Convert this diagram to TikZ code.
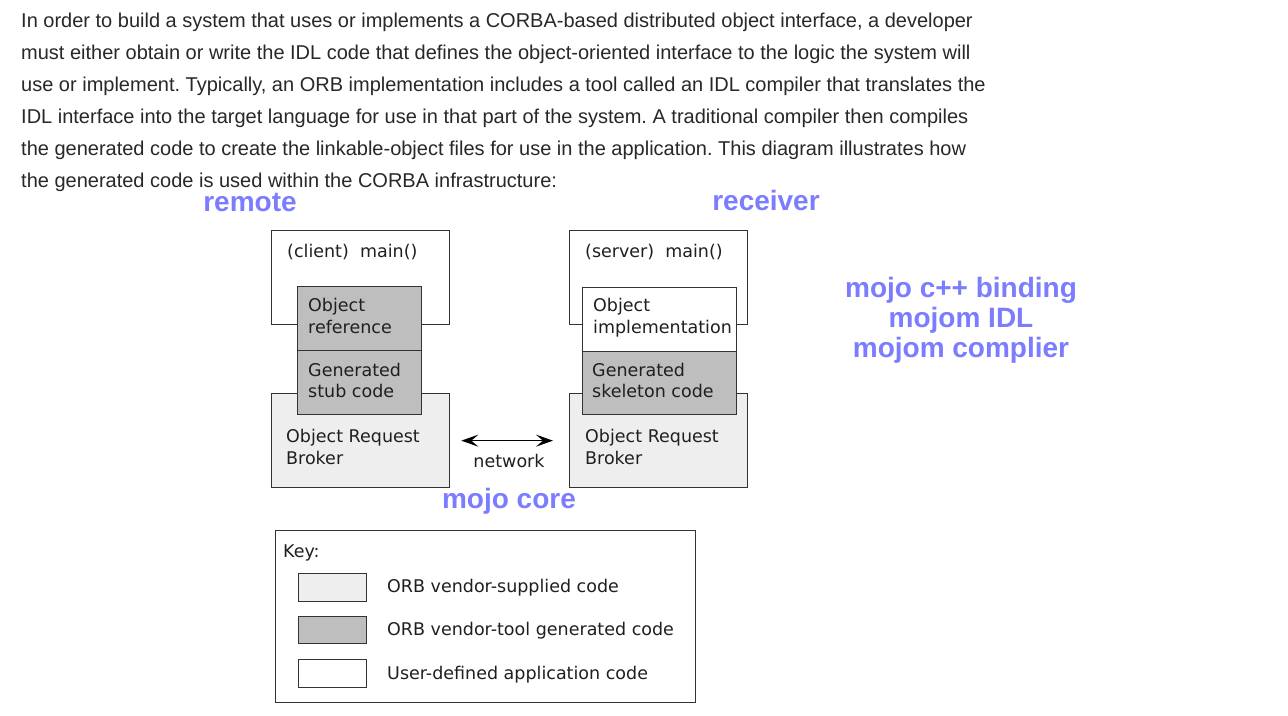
\documentclass[tikz,border=0pt]{standalone}
\usepackage{fontspec}
\setmainfont{Liberation Sans}
\newfontfamily\dv{DejaVu Sans}
\usetikzlibrary{arrows.meta}
\definecolor{txt}{RGB}{40,40,40}
\definecolor{annot}{RGB}{124,124,255}
\definecolor{lightfill}{RGB}{238,238,238}
\definecolor{midfill}{RGB}{190,190,190}
\definecolor{edge}{RGB}{51,51,51}
\frenchspacing
\begin{document}
\begin{tikzpicture}[x=1pt,y=-1pt,
 para/.style={anchor=base west, inner sep=0pt, font=\fontsize{20}{20}\selectfont, text=txt},
 lbl/.style={anchor=base west, inner sep=0pt, font=\dv\fontsize{17.5}{22}\selectfont, text=black!88},
 box/.style={draw=edge, line width=1.3pt, anchor=north west, inner sep=0pt},
 ann/.style={inner sep=0pt, font=\bfseries\fontsize{28}{30}\selectfont, text=annot, align=center},
 arr/.style={{Stealth[length=17pt,width=12pt,inset=7pt]}-{Stealth[length=17pt,width=12pt,inset=7pt]}, line width=1.3pt, draw=black}]
\useasboundingbox[fill=white] (0,0) rectangle (1288,715);

% paragraph
\node[para] (p1) at (21,27) {In order to build a system that uses or implements a CORBA-based distributed object interface, a developer};
\node[para] (p2) at (21,59) {must either obtain or write the IDL code that defines the object-oriented interface to the logic the system will};
\node[para] (p3) at (21,91) {use or implement. Typically, an ORB implementation includes a tool called an IDL compiler that translates the};
\node[para] (p4) at (21,123) {IDL interface into the target language for use in that part of the system. A traditional compiler then compiles};
\node[para] (p5) at (21,155) {the generated code to create the linkable-object files for use in the application. This diagram illustrates how};
\node[para] (p6) at (21,187) {the generated code is used within the CORBA infrastructure:};

% client side
\node[box, fill=white, minimum width=178pt, minimum height=94pt] (cmain) at (271,230) {};
\node[box, fill=lightfill, minimum width=178pt, minimum height=94pt] (corb) at (271,393) {};
\node[box, fill=midfill, minimum width=124pt, minimum height=64pt] (cref) at (297,286) {};
\node[box, fill=midfill, minimum width=124pt, minimum height=64pt] (cstub) at (297,350) {};
\node[lbl] (tcmain) at (287,257) {(client)\ \ main()};
\node[lbl] (tcref1) at (308,311) {Object};
\node[lbl] (tcref2) at (308,333) {reference};
\node[lbl] (tcstub1) at (308,376) {Generated};
\node[lbl] (tcstub2) at (308,397) {stub code};
\node[lbl] (tcorb1) at (286,442) {Object Request};
\node[lbl] (tcorb2) at (286,464) {Broker};

% server side
\node[box, fill=white, minimum width=178pt, minimum height=94pt] (smain) at (569,230) {};
\node[box, fill=lightfill, minimum width=178pt, minimum height=94pt] (sorb) at (569,393) {};
\node[box, fill=white, minimum width=154pt, minimum height=64pt] (simpl) at (582,287) {};
\node[box, fill=midfill, minimum width=154pt, minimum height=63pt] (sskel) at (582,351) {};
\node[lbl] (tsmain) at (585,257) {(server)\ \ main()};
\node[lbl] (tsimpl1) at (593,311) {Object};
\node[lbl] (tsimpl2) at (593,333) {implementation};
\node[lbl] (tsskel1) at (592,376) {Generated};
\node[lbl] (tsskel2) at (592,397) {skeleton code};
\node[lbl] (tsorb1) at (585,442) {Object Request};
\node[lbl] (tsorb2) at (585,464) {Broker};

% network
\draw[arr, shorten <=11pt, shorten >=16pt] (corb.east) -- (sorb.west);
\node[lbl, anchor=base] (tnet) at (509,467) {network};

% key
\node[box, fill=white, minimum width=420pt, minimum height=172pt] (key) at (275,530) {};
\node[lbl] (tkey) at (283,557) {Key:};
\node[box, fill=lightfill, minimum width=68pt, minimum height=28pt] (k1) at (298,573) {};
\node[box, fill=midfill, minimum width=68pt, minimum height=27pt] (k2) at (298,616) {};
\node[box, fill=white, minimum width=68pt, minimum height=28pt] (k3) at (298,659) {};
\node[lbl] (tk1) at (387,592) {ORB vendor-supplied code};
\node[lbl] (tk2) at (387,635) {ORB vendor-tool generated code};
\node[lbl] (tk3) at (387,679) {User-defined application code};

% annotations
\node[ann] (aremote) at (250,203) {remote};
\node[ann] (areceiver) at (766,200) {receiver};
\node[ann] (amojo) at (961,320) {mojo c++ binding\\mojom IDL\\mojom complier};
\node[ann] (acore) at (509,501) {mojo core};
\end{tikzpicture}
\end{document}
